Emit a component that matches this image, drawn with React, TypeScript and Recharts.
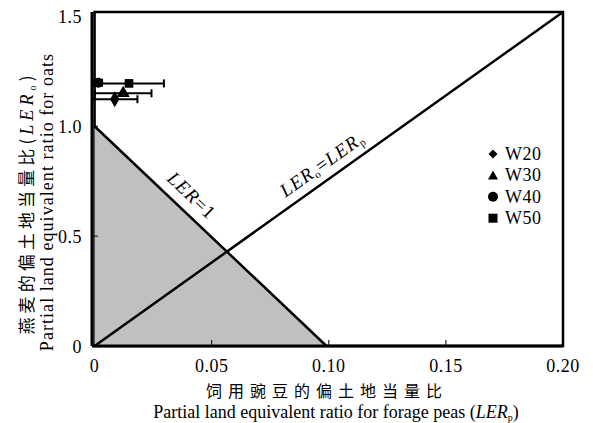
import React from 'react'
import {
  ComposedChart,
  XAxis,
  YAxis,
  ZAxis,
  Scatter,
  ErrorBar,
  Area,
  ReferenceLine,
  ReferenceArea,
  ReferenceDot,
} from 'recharts'

// data (x = LERp, y = LERo, err = horizontal error)
const w20 = [{ x: 0.0086, y: 1.123, err: 0.0097 }]
const w30 = [{ x: 0.0122, y: 1.15, err: 0.0121 }]
const w40 = [{ x: 0.0016, y: 1.198, err: 0.0016 }]
const w50 = [{ x: 0.0147, y: 1.195, err: 0.0149 }]

const lerOneLine = [{ x: 0, y: 1 }, { x: 0.099, y: 0 }]
const equalLine = [{ x: 0, y: 0 }, { x: 0.2, y: 1.52 }]

const xTicks = [0, 0.05, 0.1, 0.15, 0.2]
const xTickLabels = ['0', '0.05', '0.10', '0.15', '0.20']
const yTicks = [0, 0.5, 1.0, 1.5]
const yTickLabels = ['0', '0.5', '1.0', '1.5']

const legendItems = [
  { name: 'W20', shape: 'diamond' },
  { name: 'W30', shape: 'triangle' },
  { name: 'W40', shape: 'circle' },
  { name: 'W50', shape: 'square' },
]

const serif = '"Liberation Serif", "Times New Roman", serif'
const cjk = '"Noto Sans CJK SC", sans-serif'

const XTick = (props: any) => {
  const { x, y, payload } = props
  const i = xTicks.indexOf(payload.value)
  return (
    <g>
      {i > 0 && i < xTicks.length - 1 && (
        <line x1={x} x2={x} y1={y - 12} y2={y - 18} stroke="#000" strokeWidth={1} />
      )}
      <text x={x} y={y + 14} textAnchor="middle" fontFamily={serif} fontSize={18} letterSpacing={0.5} fill="#000">
        {xTickLabels[i]}
      </text>
    </g>
  )
}

const YTick = (props: any) => {
  const { x, y, payload } = props
  const i = yTicks.indexOf(payload.value)
  return (
    <g>
      {i > 0 && i < yTicks.length - 1 && (
        <line x1={x + 12} x2={x + 18} y1={y} y2={y} stroke="#000" strokeWidth={1} />
      )}
      <text x={x + 2} y={y + 7} textAnchor="end" fontFamily={serif} fontSize={18} letterSpacing={0.5} fill="#000">
        {yTickLabels[i]}
      </text>
    </g>
  )
}

const LegendMarker = ({ shape, x, y }: { shape: string; x: number; y: number }) => {
  if (shape === 'diamond') return <polygon points={`${x},${y - 4.5} ${x + 4.5},${y} ${x},${y + 4.5} ${x - 4.5},${y}`} fill="#000" />
  if (shape === 'triangle') return <polygon points={`${x},${y - 5} ${x + 5},${y + 4} ${x - 5},${y + 4}`} fill="#000" />
  if (shape === 'circle') return <circle cx={x} cy={y} r={5} fill="#000" />
  return <rect x={x - 4.5} y={y - 4.5} width={9} height={9} fill="#000" />
}

export default function App() {
  return (
    <div style={{ position: 'absolute', left: 0, top: 0, width: 593, height: 423, background: '#fff' }}>
      <ComposedChart width={593} height={423} margin={{ top: 12, right: 30, left: 0, bottom: 0 }}>
        <XAxis
          type="number"
          dataKey="x"
          domain={[0, 0.2]}
          ticks={xTicks}
          tick={<XTick />}
          tickSize={0}
          tickMargin={12}
          axisLine={{ stroke: '#000', strokeWidth: 3 }}
          height={77}
        />
        <YAxis
          type="number"
          dataKey="y"
          domain={[0, 1.52]}
          ticks={yTicks}
          tick={<YTick />}
          tickSize={0}
          tickMargin={12}
          axisLine={{ stroke: '#000', strokeWidth: 3 }}
          width={92}
        />
        <ZAxis range={[75, 75]} />
        <ReferenceArea x1={0} x2={0.2} y1={0} y2={1.52} fill="none" stroke="#000" strokeWidth={2.5} />
        <Area
          data={lerOneLine}
          dataKey="y"
          type="linear"
          fill="#c0c0c0"
          fillOpacity={1}
          stroke="#000"
          strokeWidth={2.5}
          isAnimationActive={false}
        />
        <ReferenceLine segment={equalLine} stroke="#000" strokeWidth={2.5} />
        <Scatter data={w20} shape="diamond" fill="#000" isAnimationActive={false}>
          <ErrorBar dataKey="err" direction="x" width={4} stroke="#000" strokeWidth={2} />
        </Scatter>
        <Scatter data={w30} shape="triangle" fill="#000" isAnimationActive={false}>
          <ErrorBar dataKey="err" direction="x" width={4} stroke="#000" strokeWidth={2} />
        </Scatter>
        <Scatter data={w40} shape="circle" fill="#000" isAnimationActive={false}>
          <ErrorBar dataKey="err" direction="x" width={4} stroke="#000" strokeWidth={2} />
        </Scatter>
        <Scatter data={w50} shape="square" fill="#000" isAnimationActive={false}>
          <ErrorBar dataKey="err" direction="x" width={4} stroke="#000" strokeWidth={2} />
        </Scatter>
        <ReferenceDot
          x={0.0408}
          y={0.678}
          r={0}
          shape={(p: any) => (
            <text
              x={p.cx}
              y={p.cy}
              transform={`rotate(43.4 ${p.cx} ${p.cy})`}
              textAnchor="middle"
              dominantBaseline="middle"
              fontFamily={serif}
              fontSize={19}
              letterSpacing={1}
              fill="#000"
            >
              <tspan fontStyle="italic">LER</tspan>=1
            </text>
          )}
        />
        <ReferenceDot
          x={0.0977}
          y={0.819}
          r={0}
          shape={(p: any) => (
            <text
              x={p.cx}
              y={p.cy}
              transform={`rotate(-35.3 ${p.cx} ${p.cy})`}
              textAnchor="middle"
              dominantBaseline="middle"
              fontFamily={serif}
              fontSize={19}
              letterSpacing={1}
              fill="#000"
            >
              <tspan fontStyle="italic">LER</tspan>
              <tspan fontSize={11} dy={4}>o</tspan>
              <tspan dy={-4}>=</tspan>
              <tspan fontStyle="italic">LER</tspan>
              <tspan fontSize={11} dy={4}>p</tspan>
            </text>
          )}
        />
      </ComposedChart>

      <svg width={593} height={423} style={{ position: 'absolute', left: 0, top: 0, pointerEvents: 'none' }}>
        {legendItems.map((item, i) => (
          <g key={item.name}>
            <LegendMarker shape={item.shape} x={493} y={154 + i * 21.4} />
            <text x={505} y={160 + i * 21.4} fontFamily={serif} fontSize={18} letterSpacing={0.5} fill="#000">
              {item.name}
            </text>
          </g>
        ))}
        <text x={327} y={397} textAnchor="middle" fontFamily={cjk} fontSize={16} fill="#000" letterSpacing={6}>
          饲用豌豆的偏土地当量比
        </text>
        <text x={336} y={418} textAnchor="middle" fontFamily={serif} fontSize={18} fill="#000">
          Partial land equivalent ratio for forage peas (<tspan fontStyle="italic">LER</tspan>
          <tspan fontSize={10} dy={3}>p</tspan>
          <tspan dy={-3}>)</tspan>
        </text>
        <g transform="translate(27 203) rotate(-90)">
          <text x={0} y={6} textAnchor="middle" fontFamily={cjk} fontSize={17} fill="#000" letterSpacing={4.1}>
            燕麦的偏土地当量比(<tspan fontFamily={serif} fontStyle="italic" fontSize={18}>LER</tspan>
            <tspan fontFamily={serif} fontSize={10} dy={3}>o</tspan>
            <tspan dy={-3}>)</tspan>
          </text>
        </g>
        <g transform="translate(47 202) rotate(-90)">
          <text x={0} y={6} textAnchor="middle" fontFamily={serif} fontSize={18} letterSpacing={1.05} fill="#000">
            Partial land equivalent ratio for oats
          </text>
        </g>
      </svg>
    </div>
  )
}
